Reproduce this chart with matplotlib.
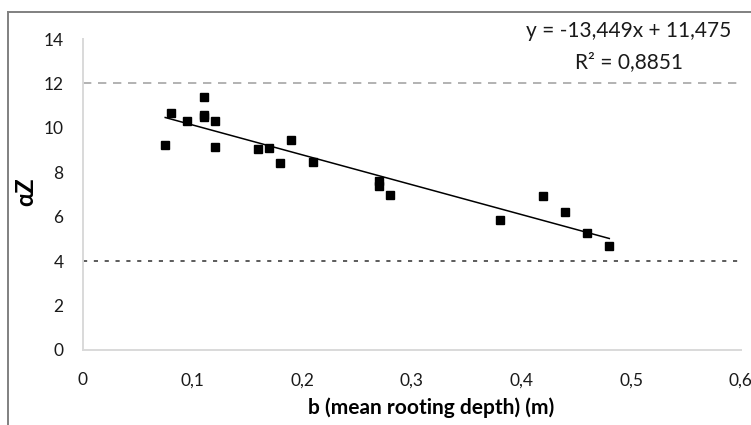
import matplotlib.pyplot as plt
from matplotlib.lines import Line2D

# =========================
# DATA
# =========================
rooting_depth = [0.075, 0.08, 0.095, 0.11, 0.11, 0.11, 0.12, 0.12, 0.16, 0.17,
                 0.18, 0.19, 0.21, 0.27, 0.27, 0.28, 0.38, 0.42, 0.44, 0.46, 0.48]
alpha_z = [9.25, 10.65, 10.3, 11.4, 10.6, 10.5, 10.3, 9.15, 9.05, 9.1,
           8.4, 9.45, 8.45, 7.6, 7.4, 7.0, 5.85, 6.95, 6.2, 5.25, 4.7]

slope = -13.449
intercept = 11.475
r_squared = 0.8851

upper_ref = 12
lower_ref = 4

x_ticks = [0, 0.1, 0.2, 0.3, 0.4, 0.5, 0.6]
y_ticks = [0, 2, 4, 6, 8, 10, 12, 14]

plt.rcParams["font.family"] = ["Lato", "DejaVu Sans"]

# =========================
# FIGURE
# =========================
fig = plt.figure(figsize=(7.51, 4.25), dpi=100)
ax = fig.add_axes([0.1105, 0.1765, 0.876, 0.7317])

# outer frame of the chart area (only top and left edges are in view)
frame_x = 8 / 751
frame_y = 1 - 12 / 425
fig.add_artist(Line2D([frame_x, 1.0], [frame_y, frame_y], transform=fig.transFigure,
                      color="#808080", linewidth=1.4))
fig.add_artist(Line2D([frame_x, frame_x], [0.0, frame_y], transform=fig.transFigure,
                      color="#808080", linewidth=1.4))

# reference lines
ax.axhline(upper_ref, color="#A6A6A6", linewidth=1.2, dashes=(5, 4), zorder=1)
ax.axhline(lower_ref, color="#404040", linewidth=1.2, dashes=(2.5, 4), zorder=1)

# points
ax.plot(rooting_depth, alpha_z, linestyle="none", marker="s",
        markersize=5.5, color="black", zorder=3)

# linear trendline over the data range
x_line = [min(rooting_depth), max(rooting_depth)]
y_line = [slope * v + intercept for v in x_line]
ax.plot(x_line, y_line, color="black", linewidth=1.1, zorder=2)

ax.set_xlim(0, 0.6)
ax.set_ylim(0, 14)
ax.set_xticks(x_ticks)
ax.set_yticks(y_ticks)
ax.set_xticklabels([("%g" % v).replace(".", ",") for v in x_ticks])
ax.set_yticklabels([str(v) for v in y_ticks])
ax.tick_params(length=0, labelsize=12.5, colors="#1a1a1a")
ax.tick_params(axis="y", pad=14)
ax.tick_params(axis="x", pad=16)

for side in ["top", "right"]:
    ax.spines[side].set_visible(False)
for side in ["left", "bottom"]:
    ax.spines[side].set_color("#D9D9D9")
    ax.spines[side].set_linewidth(1.4)

ax.set_xlabel("b (mean rooting depth) (m)", fontsize=15, fontweight="bold")
ax.xaxis.set_label_coords(0.529, -0.153)
ax.set_ylabel("αZ", fontsize=17, fontweight="bold")
ax.yaxis.set_label_coords(-0.07, 0.51)

# trendline equation
eq_text = "y = %s" % ("%.3fx + %.3f" % (slope, intercept)).replace(".", ",")
fig.text(629 / 751, 1 - 31 / 425, eq_text, ha="center", va="center",
         fontsize=15, color="#1a1a1a")
fig.text(629 / 751, 1 - 62 / 425, ("R² = %.4f" % r_squared).replace(".", ","),
         ha="center", va="center", fontsize=15, color="#1a1a1a")

fig.savefig("out.png", dpi=100)
